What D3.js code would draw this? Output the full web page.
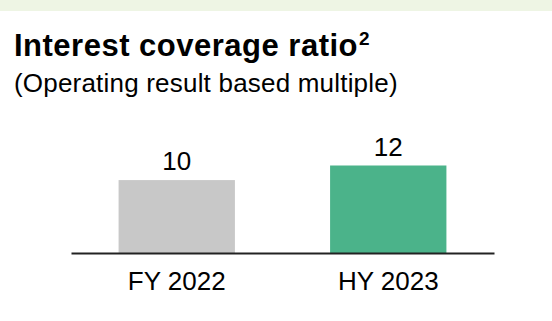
<!DOCTYPE html>
<html>
<head>
<meta charset="utf-8">
<script src="https://cdn.jsdelivr.net/npm/d3@7"></script>
<style>
  html, body { margin: 0; padding: 0; background: #ffffff; }
  svg { display: block; font-family: "Liberation Sans", Arial, sans-serif; }
</style>
</head>
<body>
<script>
// Chart data
const categories = ["FY 2022", "HY 2023"];
const values = [10, 12];
const barColors = ["#c8c8c8", "#4bb38a"];
const title = "Interest coverage ratio";
const titleNote = "2";
const subtitle = "(Operating result based multiple)";

const W = 552, H = 321;
const svg = d3.select("body").append("svg").attr("width", W).attr("height", H);

// Light header band
svg.append("rect").attr("x", 0).attr("y", 0).attr("width", W).attr("height", 11)
  .attr("fill", "#eef5e4");

// Title with footnote marker
const t = svg.append("text").attr("x", 14).attr("y", 56)
  .attr("font-size", 31).attr("font-weight", "bold").attr("fill", "#000")
  .attr("letter-spacing", 0.5);
t.append("tspan").text(title);
t.append("tspan").attr("dy", -11).attr("dx", 1).attr("font-size", 19)
  .attr("letter-spacing", 0).text(titleNote);

svg.append("text").attr("x", 14).attr("y", 92)
  .attr("font-size", 26).attr("fill", "#000").attr("letter-spacing", 0.2)
  .text(subtitle);

// Scales
const baseY = 253;
const x = d3.scaleBand().domain(categories).range([71, 494])
  .paddingInner(0.45).paddingOuter(0.225);
const y = d3.scaleLinear().domain([0, 12]).range([baseY, 165.5]);

// Bars
svg.selectAll("rect.bar").data(values).join("rect")
  .attr("class", "bar")
  .attr("x", (d, i) => x(categories[i]))
  .attr("y", d => y(d))
  .attr("width", x.bandwidth())
  .attr("height", d => baseY - y(d))
  .attr("fill", (d, i) => barColors[i]);

// Value labels
svg.selectAll("text.val").data(values).join("text")
  .attr("class", "val")
  .attr("x", (d, i) => x(categories[i]) + x.bandwidth() / 2)
  .attr("y", d => y(d) - 10)
  .attr("text-anchor", "middle")
  .attr("font-size", 26).attr("fill", "#000")
  .text(d => d);

// Baseline axis
const axis = d3.axisBottom(x).tickSize(0).tickPadding(19).tickSizeOuter(0);
const g = svg.append("g").attr("transform", `translate(0,${baseY})`).call(axis);
g.select(".domain").attr("stroke", "#222").attr("stroke-width", 2);
g.selectAll(".tick text").attr("font-size", 26).attr("fill", "#000")
  .attr("font-family", "Liberation Sans, Arial, sans-serif");
</script>
</body>
</html>
